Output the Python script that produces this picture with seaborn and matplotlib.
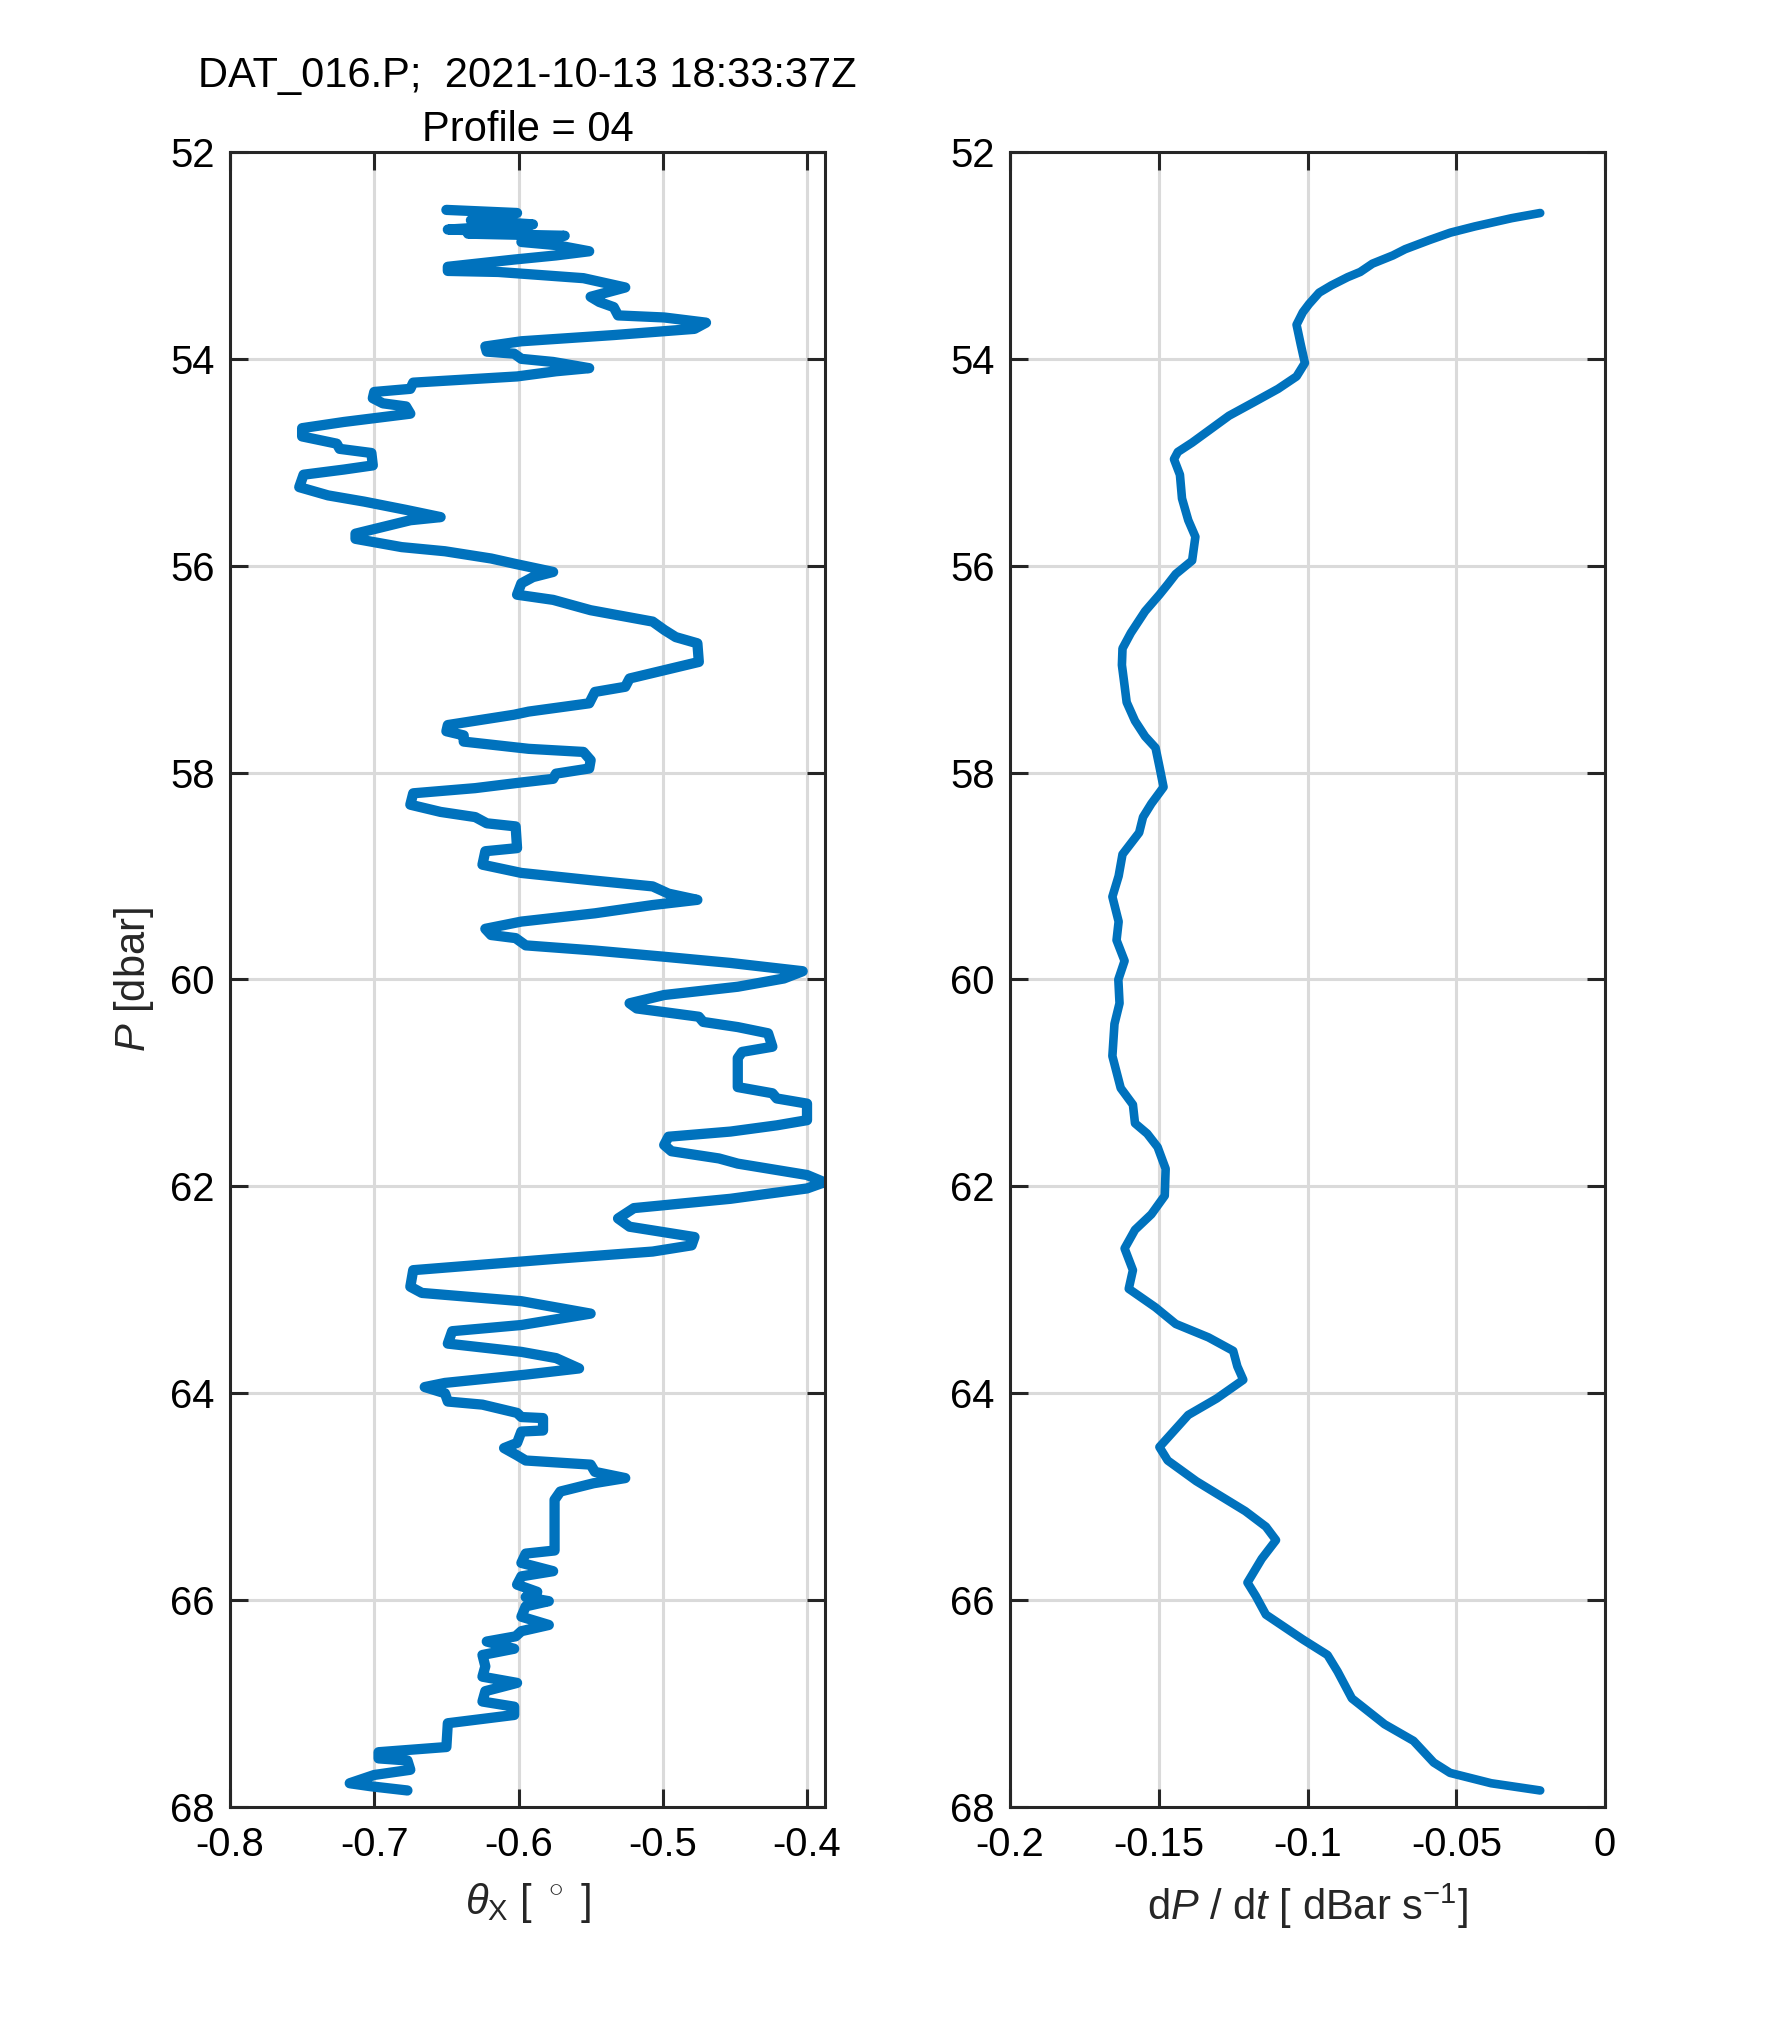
import numpy as np
import pandas as pd
import seaborn as sns
import matplotlib
matplotlib.use("Agg")
import matplotlib.pyplot as plt

#%% profile values
# left panel: theta_X vs P
p_left = [52.56, 52.59, 52.66, 52.70, 52.75, 52.77, 52.79, 52.81, 52.87, 52.90,
          52.96, 53.00, 53.04, 53.11, 53.15, 53.16, 53.22, 53.31, 53.40, 53.45,
          53.50, 53.58, 53.60, 53.65, 53.71, 53.77, 53.83, 53.88, 53.93, 53.95,
          54.00, 54.03, 54.09, 54.12, 54.17, 54.23, 54.29, 54.32, 54.38, 54.43,
          54.46, 54.53, 54.61, 54.67, 54.75, 54.82, 54.87, 54.91, 55.03, 55.07,
          55.12, 55.24, 55.32, 55.38, 55.46, 55.53, 55.56, 55.69, 55.74, 55.82,
          55.86, 55.93, 55.98, 56.06, 56.11, 56.17, 56.28, 56.33, 56.43,
          56.54, 56.62, 56.69, 56.75, 56.93, 57.01, 57.09, 57.17, 57.22, 57.33,
          57.41, 57.44, 57.54, 57.60, 57.64, 57.70, 57.77, 57.80, 57.88, 57.96,
          58.01, 58.06, 58.10, 58.15, 58.20, 58.31, 58.38, 58.43, 58.49, 58.52,
          58.73, 58.76, 58.89, 58.97, 59.04, 59.10, 59.17, 59.23, 59.28, 59.36,
          59.44, 59.51, 59.57, 59.60, 59.67, 59.72, 59.78, 59.84, 59.92, 59.99,
          60.07, 60.15, 60.23, 60.28, 60.36,
          60.41, 60.46, 60.52, 60.65, 60.70, 60.76, 61.04, 61.10, 61.15, 61.20,
          61.36, 61.41, 61.47, 61.52, 61.60, 61.66, 61.73, 61.78, 61.89, 61.96,
          62.02, 62.12, 62.21, 62.31, 62.39, 62.49, 62.57, 62.63, 62.70, 62.81,
          62.97, 63.03, 63.11, 63.23, 63.34, 63.40, 63.52, 63.60, 63.66, 63.71,
          63.76, 63.82, 63.90, 63.94, 64.00, 64.08, 64.11, 64.19,
          64.23, 64.24, 64.36, 64.37, 64.48, 64.53, 64.60, 64.65, 64.69, 64.76,
          64.82, 64.87, 64.95, 65.03, 65.52, 65.55, 65.64, 65.72, 65.77, 65.85,
          65.92, 65.97, 66.01, 66.06, 66.16, 66.24, 66.30, 66.35, 66.40, 66.47,
          66.53, 66.64, 66.74, 66.80, 66.88, 66.98, 67.03, 67.11, 67.19, 67.42,
          67.47, 67.53, 67.55, 67.64, 67.69, 67.77, 67.80, 67.84]
theta_x = [-0.650, -0.601, -0.633, -0.590, -0.649, -0.598, -0.635, -0.568, -0.598, -0.574,
           -0.551, -0.574, -0.603, -0.649, -0.649, -0.614, -0.555, -0.526, -0.550, -0.544,
           -0.534, -0.531, -0.499, -0.470, -0.478, -0.534, -0.598, -0.623, -0.622, -0.603,
           -0.598, -0.576, -0.551, -0.574, -0.601, -0.673, -0.675, -0.700, -0.701, -0.694,
           -0.678, -0.675, -0.721, -0.750, -0.750, -0.726, -0.724, -0.702, -0.701, -0.721,
           -0.749, -0.752, -0.732, -0.707, -0.678, -0.654, -0.675, -0.713, -0.713, -0.681,
           -0.651, -0.619, -0.603, -0.576, -0.590, -0.598, -0.601, -0.576, -0.550,
           -0.507, -0.499, -0.491, -0.476, -0.475, -0.499, -0.523, -0.526, -0.547, -0.551,
           -0.593, -0.603, -0.649, -0.650, -0.638, -0.638, -0.593, -0.555, -0.550, -0.551,
           -0.574, -0.576, -0.601, -0.630, -0.673, -0.675, -0.654, -0.630, -0.622, -0.602,
           -0.601, -0.623, -0.625, -0.598, -0.550, -0.507, -0.496, -0.476, -0.507, -0.547,
           -0.598, -0.623, -0.619, -0.602, -0.595, -0.547, -0.499, -0.453, -0.403, -0.416,
           -0.448, -0.499, -0.523, -0.518, -0.475,
           -0.472, -0.448, -0.427, -0.424, -0.445, -0.448, -0.448, -0.424, -0.421, -0.400,
           -0.400, -0.421, -0.453, -0.496, -0.499, -0.494, -0.461, -0.448, -0.400, -0.388,
           -0.400, -0.453, -0.520, -0.531, -0.523, -0.478, -0.480, -0.507, -0.574, -0.673,
           -0.675, -0.667, -0.598, -0.550, -0.598, -0.646, -0.649, -0.598, -0.574, -0.566,
           -0.558, -0.595, -0.651, -0.665, -0.651, -0.649, -0.625, -0.601,
           -0.598, -0.583, -0.583, -0.598, -0.601, -0.610, -0.601, -0.595, -0.550, -0.547,
           -0.526, -0.548, -0.571, -0.575, -0.575, -0.595, -0.598, -0.576, -0.598, -0.601,
           -0.587, -0.595, -0.579, -0.595, -0.598, -0.579, -0.598, -0.602, -0.622, -0.603,
           -0.625, -0.623, -0.625, -0.601, -0.623, -0.625, -0.603, -0.603, -0.649, -0.650,
           -0.697, -0.697, -0.677, -0.675, -0.700, -0.717, -0.702, -0.677]

# right panel: fall rate dP/dt vs P
p_right = [52.59, 52.64, 52.72, 52.78, 52.85, 52.94, 53.00, 53.08, 53.16, 53.21,
           53.29, 53.36, 53.47, 53.55, 53.67, 53.86, 54.04, 54.17, 54.29, 54.42,
           54.55, 54.68, 54.81, 54.90, 54.97, 55.12, 55.35, 55.56, 55.72, 55.95,
           56.08, 56.18, 56.28, 56.44, 56.65, 56.80, 56.96, 57.16, 57.32, 57.50,
           57.65, 57.76, 57.94, 58.14, 58.30, 58.43, 58.58, 58.79, 59.00, 59.20,
           59.44, 59.62, 59.82, 60.00, 60.23, 60.43, 60.74, 61.05, 61.21, 61.39,
           61.49, 61.62, 61.83, 62.09, 62.27, 62.42, 62.60, 62.81, 62.99, 63.17,
           63.33, 63.46, 63.59, 63.74, 63.87, 64.05, 64.21, 64.52, 64.65, 64.85,
           65.14, 65.29, 65.42, 65.60, 65.83, 65.96, 66.14, 66.38, 66.53, 66.69,
           66.95, 67.20, 67.36, 67.57, 67.67, 67.77, 67.84]
dpdt = [-0.0218, -0.0314, -0.0438, -0.0520, -0.0589, -0.0672, -0.0713, -0.0782, -0.0823, -0.0865,
        -0.0920, -0.0961, -0.0995, -0.1016, -0.1037, -0.1023, -0.1009, -0.1037, -0.1099, -0.1181,
        -0.1264, -0.1326, -0.1388, -0.1436, -0.1449, -0.1429, -0.1422, -0.1401, -0.1377, -0.1388,
        -0.1443, -0.1470, -0.1498, -0.1546, -0.1594, -0.1622, -0.1624, -0.1615, -0.1608, -0.1580,
        -0.1546, -0.1511, -0.1498, -0.1484, -0.1525, -0.1553, -0.1566, -0.1622, -0.1635, -0.1656,
        -0.1635, -0.1642, -0.1615, -0.1636, -0.1632, -0.1649, -0.1656, -0.1628, -0.1587, -0.1580,
        -0.1539, -0.1504, -0.1477, -0.1480, -0.1525, -0.1580, -0.1615, -0.1587, -0.1601, -0.1511,
        -0.1443, -0.1333, -0.1250, -0.1236, -0.1216, -0.1305, -0.1401, -0.1498, -0.1470, -0.1374,
        -0.1209, -0.1140, -0.1106, -0.1154, -0.1202, -0.1174, -0.1140, -0.1016, -0.0933, -0.0899,
        -0.0851, -0.0741, -0.0644, -0.0576, -0.0521, -0.0383, -0.0218]

title_line1 = "DAT_016.P;  2021-10-13 18:33:37Z"
title_line2 = "Profile = 04"
p_ticks = [52, 54, 56, 58, 60, 62, 64, 66, 68]
theta_ticks = [-0.8, -0.7, -0.6, -0.5, -0.4]
theta_ticklabels = ["-0.8", "-0.7", "-0.6", "-0.5", "-0.4"]
dpdt_ticks = [-0.2, -0.15, -0.1, -0.05, 0]
dpdt_ticklabels = ["-0.2", "-0.15", "-0.1", "-0.05", "0"]

left_df = pd.DataFrame({"theta": theta_x, "P": p_left})
right_df = pd.DataFrame({"dPdt": dpdt, "P": p_right})

#%% style - try to look like the matlab figure
sns.set_theme(style="ticks")
plt.rcParams['font.family'] = ['Liberation Sans', 'DejaVu Sans']
plt.rcParams['mathtext.fontset'] = 'custom'
plt.rcParams['mathtext.rm'] = 'Liberation Sans'
plt.rcParams['mathtext.it'] = 'Liberation Sans:italic'
plt.rcParams['axes.unicode_minus'] = False

dark = '#262626'
blue = '#0072BD'
fs = 14.4

fig = plt.figure(figsize=(8.86, 10.145), dpi=200)
ax1 = fig.add_axes([0.1298, 0.1094, 0.3358, 0.8157])
ax2 = fig.add_axes([0.5700, 0.1094, 0.3358, 0.8157])

sns.lineplot(data=left_df, x="theta", y="P", sort=False, estimator=None,
             color=blue, lw=3.7, ax=ax1)
sns.lineplot(data=right_df, x="dPdt", y="P", sort=False, estimator=None,
             color=blue, lw=3.1, ax=ax2)

for ax in (ax1, ax2):
    ax.set_ylim(68, 52)
    ax.set_yticks(p_ticks)
    ax.set_yticklabels([str(t) for t in p_ticks])
    ax.set_axisbelow(True)
    ax.grid(True, color='#dadada', lw=1.1)
    ax.tick_params(direction='in', length=6.5, width=1.1, colors=dark,
                   labelsize=fs, pad=5.5, top=True, right=True, labelcolor='black')
    ax.tick_params(axis='x', pad=7)
    for s in ax.spines.values():
        s.set_color(dark)
        s.set_linewidth(1.1)
        s.set_visible(True)
    ax.set_ylabel("")

ax1.set_xlim(-0.8, -0.3875)
ax1.set_xticks(theta_ticks)
ax1.set_xticklabels(theta_ticklabels)
ax1.set_xlabel(r'$\theta_\mathrm{X}$ [ $^\circ$ ]', fontsize=fs + 0.6, labelpad=6)
ax1.set_ylabel(r'$P$ [dbar]', fontsize=fs + 0.6, labelpad=5)
# two title lines as separate texts so the wide first line stays clear of the 52 label
ax1.set_title(title_line2, fontsize=fs + 0.6, pad=4, color='black')
ax1.text(0.5, 1.039, title_line1, transform=ax1.transAxes, ha='center', va='baseline',
         fontsize=fs + 0.6, color='black')

ax2.set_xlim(-0.2, 0)
ax2.set_xticks(dpdt_ticks)
ax2.set_xticklabels(dpdt_ticklabels)
ax2.set_xlabel(r'd$P$ / d$t$ [ dBar s$^{-1}$]', fontsize=fs + 0.6, labelpad=6)

fig.savefig('out.png', dpi=200, facecolor='white')
